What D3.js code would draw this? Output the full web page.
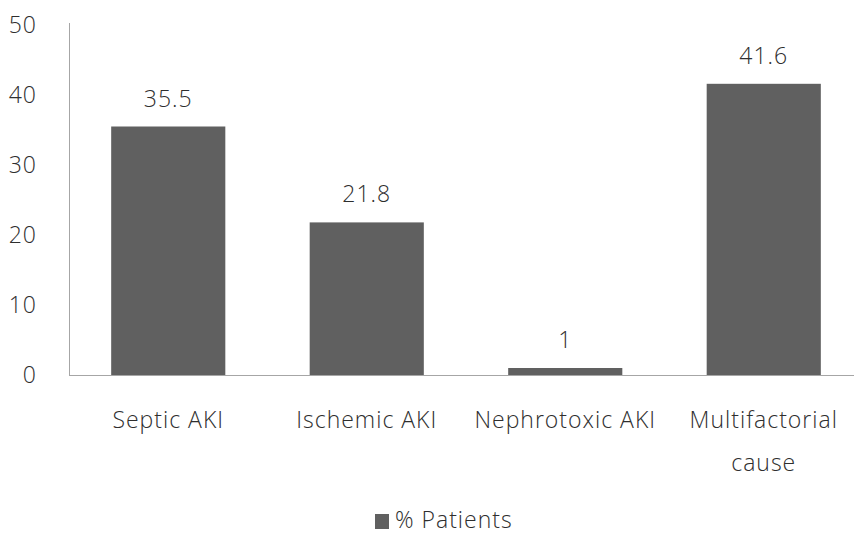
<!DOCTYPE html>
<html>
<head>
<meta charset="utf-8">
<script src="https://cdn.jsdelivr.net/npm/d3@7/dist/d3.min.js"></script>
<style>
  html, body { margin: 0; padding: 0; background: #fff; }
  svg { display: block; }
  text { font-family: "Open Sans", "Noto Sans", sans-serif; font-weight: 300; fill: #2e2e2e; letter-spacing: 1px; }
</style>
</head>
<body>
<svg id="chart" width="854" height="535"></svg>
<script>
// Causes of acute kidney injury, share of patients
const categories = ["Septic AKI", "Ischemic AKI", "Nephrotoxic AKI", "Multifactorial cause"];
const percentPatients = [35.5, 21.8, 1, 41.6];
const yTicks = [0, 10, 20, 30, 40, 50];
const seriesName = "% Patients";

const svg = d3.select("#chart");
const plotLeft = 69, plotTop = 25, plotBottom = 375;
const step = 198.5;
const fontSize = 23;

const x = d3.scaleBand()
  .domain(categories)
  .range([plotLeft, plotLeft + step * categories.length])
  .paddingInner(0.425)
  .paddingOuter(0.2125);

const y = d3.scaleLinear().domain([0, 50]).range([plotBottom, plotTop]);

// y axis line and tick labels
svg.append("line")
  .attr("x1", plotLeft + 0.5).attr("x2", plotLeft + 0.5)
  .attr("y1", plotTop - 2).attr("y2", plotBottom)
  .attr("stroke", "#a6a6a6").attr("stroke-width", 1);

svg.append("g").selectAll("text")
  .data(yTicks).join("text")
  .attr("x", 37)
  .attr("y", d => y(d))
  .attr("dy", "0.36em")
  .attr("text-anchor", "end")
  .attr("font-size", fontSize)
  .text(d => d);

// bars
svg.append("g").selectAll("rect")
  .data(categories).join("rect")
  .attr("x", d => x(d))
  .attr("width", x.bandwidth())
  .attr("y", (d, i) => y(percentPatients[i]))
  .attr("height", (d, i) => y(0) - y(percentPatients[i]))
  .attr("fill", "#606060");

// baseline
svg.append("line")
  .attr("x1", plotLeft).attr("x2", 854)
  .attr("y1", plotBottom + 0.5).attr("y2", plotBottom + 0.5)
  .attr("stroke", "#a6a6a6").attr("stroke-width", 1.2);

// value labels
svg.append("g").selectAll("text")
  .data(categories).join("text")
  .attr("x", d => x(d) + x.bandwidth() / 2)
  .attr("y", (d, i) => y(percentPatients[i]) - 20)
  .attr("text-anchor", "middle")
  .attr("font-size", fontSize)
  .text((d, i) => percentPatients[i]);

// category labels (wrapped)
const catLines = {
  "Septic AKI": ["Septic AKI"],
  "Ischemic AKI": ["Ischemic AKI"],
  "Nephrotoxic AKI": ["Nephrotoxic AKI"],
  "Multifactorial cause": ["Multifactorial", "cause"]
};
const cat = svg.append("g").selectAll("text")
  .data(categories).join("text")
  .attr("x", d => x(d) + x.bandwidth() / 2)
  .attr("y", 428)
  .attr("text-anchor", "middle")
  .attr("font-size", fontSize);
cat.each(function(d) {
  const t = d3.select(this);
  catLines[d].forEach((line, i) => {
    t.append("tspan")
      .attr("x", x(d) + x.bandwidth() / 2)
      .attr("dy", i === 0 ? 0 : 43)
      .text(line);
  });
});

// legend
const legend = svg.append("g");
legend.append("rect")
  .attr("x", 375).attr("y", 514)
  .attr("width", 14).attr("height", 15)
  .attr("fill", "#606060");
legend.append("text")
  .attr("x", 395).attr("y", 520)
  .attr("dy", "0.36em")
  .attr("font-size", fontSize)
  .text(seriesName);
</script>
</body>
</html>
